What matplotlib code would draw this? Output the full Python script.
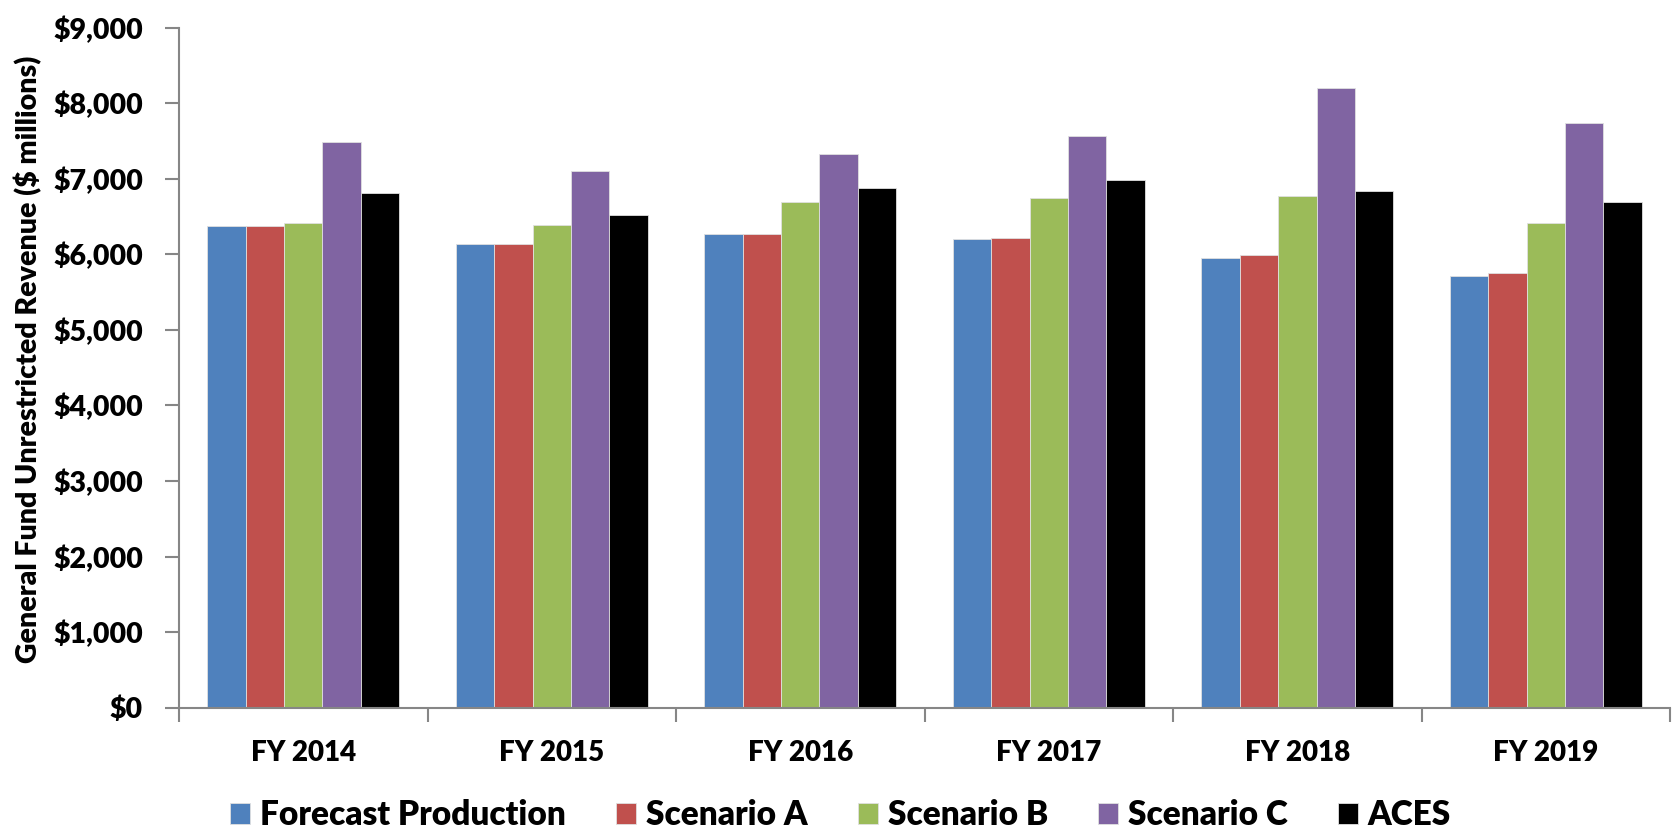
import numpy as np
import matplotlib
matplotlib.use("Agg")
import matplotlib.pyplot as plt
from matplotlib.ticker import FuncFormatter, FixedLocator

years = ["FY 2014", "FY 2015", "FY 2016", "FY 2017", "FY 2018", "FY 2019"]
series_names = ["Forecast Production", "Scenario A", "Scenario B", "Scenario C", "ACES"]
forecast_production = [6372, 6138, 6270, 6196, 5957, 5706]
scenario_a = [6372, 6138, 6270, 6209, 5988, 5750]
scenario_b = [6416, 6394, 6693, 6751, 6773, 6411]
scenario_c = [7492, 7108, 7328, 7562, 8206, 7743]
aces = [6812, 6526, 6874, 6989, 6844, 6689]
colors = ["#4F81BD", "#C0504D", "#9BBB59", "#8064A2", "#000000"]

plt.rcParams["font.family"] = ["Lato", "DejaVu Sans"]
plt.rcParams["font.weight"] = "heavy"

fig = plt.figure(figsize=(16.81, 8.36), dpi=100)
ax = fig.add_axes([0.1065, 0.1535, 0.887, 0.8135])

x = np.arange(len(years))
bar_w = 0.1545
all_series = [forecast_production, scenario_a, scenario_b, scenario_c, aces]
for i, vals in enumerate(all_series):
    offs = (i - 2) * bar_w
    ax.bar(x + offs, vals, width=bar_w, color=colors[i], label=series_names[i],
           edgecolor="#e0e0e0", linewidth=0.6)

ax.set_xlim(-0.5, 5.5)
ax.set_ylim(0, 9000)
ax.set_yticks(np.arange(0, 9001, 1000))
ax.yaxis.set_major_formatter(FuncFormatter(lambda v, p: "${:,.0f}".format(v)))

ax.xaxis.set_major_locator(FixedLocator(np.arange(-0.5, 6, 1)))
ax.xaxis.set_major_formatter(FuncFormatter(lambda v, p: ""))
ax.xaxis.set_minor_locator(FixedLocator(x))
ax.set_xticklabels(years, minor=True)
ax.tick_params(axis="x", which="minor", length=0, pad=23, labelsize=20)
ax.tick_params(axis="x", which="major", length=10, width=1.5, color="#868686", direction="out")
ax.tick_params(axis="y", length=10, width=1.5, color="#868686", direction="out", pad=16, labelsize=20.5)

for s in ["top", "right"]:
    ax.spines[s].set_visible(False)
for s in ["left", "bottom"]:
    ax.spines[s].set_color("#868686")
    ax.spines[s].set_linewidth(1.5)

fig.text(0.0165, 0.57, "General Fund Unrestricted Revenue ($ millions)", rotation=90,
         ha="center", va="center", fontsize=20.5)

fig.legend(loc="center", bbox_to_anchor=(0.5, 0.025), ncol=5, frameon=False,
           fontsize=24, handlelength=0.6, handleheight=0.6, handletextpad=0.3,
           columnspacing=1.5)

fig.savefig("out.png", dpi=100)
